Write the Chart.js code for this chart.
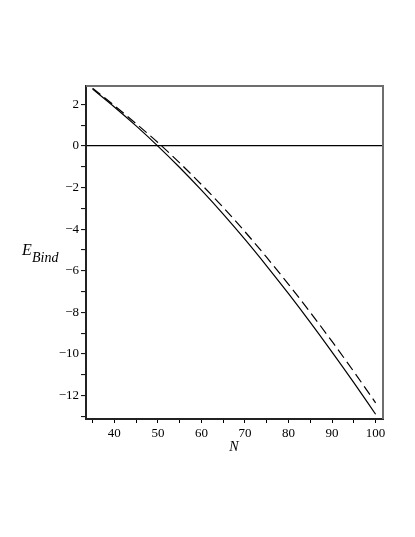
<!DOCTYPE html>
<html>
<head>
<meta charset="utf-8">
<script src="https://cdn.jsdelivr.net/npm/chart.js@4"></script>
<style>
  html, body { margin: 0; padding: 0; background: #ffffff; }
  #wrap { width: 415px; height: 537px; position: relative; }
</style>
</head>
<body>
<div id="wrap"><canvas id="c" width="415" height="537"></canvas></div>
<script>
// ---- data ----
const nValues = [35, 40, 45, 50, 55, 60, 65, 70, 75, 80, 85, 90, 95, 100];
const eBindSolid = [2.74, 1.88, 0.97, 0.0, -1.03, -2.12, -3.27, -4.49, -5.77, -7.10, -8.48, -9.91, -11.38, -12.9];
const eBindDashed = [2.78, 1.95, 1.08, 0.17, -0.81, -1.85, -2.95, -4.12, -5.36, -6.65, -8.00, -9.40, -10.85, -12.35];
const xTickValues = [35, 40, 45, 50, 55, 60, 65, 70, 75, 80, 85, 90, 95, 100];
const xTickLabels = ['', '40', '', '50', '', '60', '', '70', '', '80', '', '90', '', '100'];
const yTickValues = [-13, -12, -11, -10, -9, -8, -7, -6, -5, -4, -3, -2, -1, 0, 1, 2];
const yTickLabels = ['', '\u221212', '', '\u221210', '', '\u22128', '', '\u22126', '', '\u22124', '', '\u22122', '', '0', '', '2'];
const xRange = [33.49, 101.7];
const yRange = [-13.13, 2.89];
const xTitle = 'N';
const yTitleMain = 'E';
const yTitleSub = 'Bind';

const serif = '"Liberation Serif", "DejaVu Serif", serif';

const titlesPlugin = {
  id: 'titles',
  afterDraw(chart) {
    const ctx = chart.ctx;
    const a = chart.chartArea;
    ctx.save();
    // top and right frame
    ctx.strokeStyle = '#6e6e6e';
    ctx.lineWidth = 2;
    ctx.beginPath();
    ctx.moveTo(a.left, a.top);
    ctx.lineTo(a.right, a.top);
    ctx.lineTo(a.right, a.bottom);
    ctx.stroke();
    // axis titles
    ctx.fillStyle = '#000';
    ctx.textBaseline = 'alphabetic';
    ctx.textAlign = 'left';
    ctx.font = 'italic 16px ' + serif;
    ctx.fillText(yTitleMain, 22, 255);
    ctx.font = 'italic 14px ' + serif;
    ctx.fillText(yTitleSub, 32, 262);
    ctx.font = 'italic 14px ' + serif;
    ctx.textAlign = 'center';
    ctx.fillText(xTitle, 234, 451);
    ctx.restore();
  }
};

new Chart(document.getElementById('c'), {
  type: 'line',
  data: {
    datasets: [
      {
        data: nValues.map((n, i) => ({ x: n, y: eBindSolid[i] })),
        borderColor: '#000',
        borderWidth: 1.2,
        pointRadius: 0,
        cubicInterpolationMode: 'monotone',
        fill: false
      },
      {
        data: nValues.map((n, i) => ({ x: n, y: eBindDashed[i] })),
        borderColor: '#000',
        borderWidth: 1.2,
        borderDash: [10, 5],
        pointRadius: 0,
        cubicInterpolationMode: 'monotone',
        fill: false
      }
    ]
  },
  options: {
    responsive: false,
    animation: false,
    devicePixelRatio: 1,
    layout: { padding: { left: 0, right: 32, top: 86, bottom: 0 } },
    plugins: { legend: { display: false }, tooltip: { enabled: false }, title: { display: false } },
    scales: {
      x: {
        type: 'linear',
        min: xRange[0],
        max: xRange[1],
        afterBuildTicks: (s) => { s.ticks = xTickValues.map(v => ({ value: v })); },
        afterFit: (s) => { s.height = 118; },
        ticks: {
          autoSkip: false,
          maxRotation: 0,
          padding: 3,
          color: '#000',
          font: { family: serif, size: 13 },
          callback: (v) => { const i = xTickValues.indexOf(v); return i >= 0 ? xTickLabels[i] : ''; }
        },
        grid: { drawOnChartArea: false, drawTicks: true, tickLength: 4, tickColor: '#000', tickWidth: 1 },
        border: { display: true, color: '#222', width: 2 }
      },
      y: {
        type: 'linear',
        min: yRange[0],
        max: yRange[1],
        afterBuildTicks: (s) => { s.ticks = yTickValues.map(v => ({ value: v })); },
        afterFit: (s) => { s.width = 86; },
        ticks: {
          autoSkip: false,
          padding: 2,
          color: '#000',
          font: { family: serif, size: 13 },
          callback: (v) => { const i = yTickValues.indexOf(v); return i >= 0 ? yTickLabels[i] : ''; }
        },
        grid: {
          drawOnChartArea: true,
          drawTicks: true,
          tickLength: 5,
          tickColor: '#000',
          tickWidth: 1,
          color: (c) => (c.tick && c.tick.value === 0 ? '#000' : 'rgba(0,0,0,0)'),
          lineWidth: 1.2
        },
        border: { display: true, color: '#222', width: 2 }
      }
    }
  },
  plugins: [titlesPlugin]
});
</script>
</body>
</html>
